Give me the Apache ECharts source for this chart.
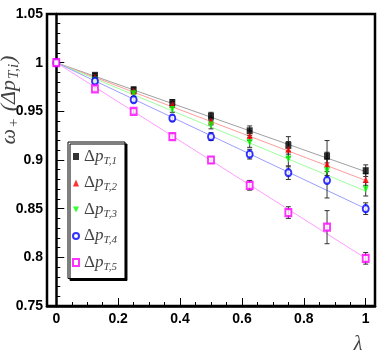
<!DOCTYPE html>
<html>
<head>
<meta charset="utf-8">
<script src="https://cdn.jsdelivr.net/npm/echarts@6/dist/echarts.min.js"></script>
<style>html,body{margin:0;padding:0;background:#fff}#c{width:392px;height:354px}</style>
</head>
<body>
<div id="c"></div>
<script>
const lambda = [0, 0.125, 0.25, 0.375, 0.5, 0.625, 0.75, 0.875, 1];
const names = ['Δp_T,1', 'Δp_T,2', 'Δp_T,3', 'Δp_T,4', 'Δp_T,5'];
const s1 = [1, 0.987, 0.972, 0.959, 0.945, 0.930, 0.915, 0.904, 0.889];
const s2 = [1, 0.985, 0.971, 0.957, 0.940, 0.925, 0.911, 0.896, 0.880];
const s3 = [1, 0.982, 0.968, 0.952, 0.936, 0.918, 0.901, 0.889, 0.870];
const s4 = [1, 0.981, 0.962, 0.943, 0.924, 0.906, 0.887, 0.879, 0.850];
const s5 = [1, 0.973, 0.950, 0.924, 0.900, 0.874, 0.846, 0.831, 0.799];
const e1 = [0.001, 0.002, 0.003, 0.003, 0.004, 0.005, 0.009, 0.016, 0.006];
const e2 = [0.001, 0.002, 0.003, 0.003, 0.004, 0.005, 0.008, 0.012, 0.006];
const e3 = [0.001, 0.002, 0.003, 0.003, 0.004, 0.005, 0.008, 0.012, 0.007];
const e4 = [0.001, 0.002, 0.003, 0.003, 0.004, 0.005, 0.007, 0.018, 0.006];
const e5 = [0.001, 0.002, 0.002, 0.003, 0.003, 0.005, 0.006, 0.017, 0.006];
// straight-line fits: value at lambda=0 and lambda=1
const fitX = [0, 1];
const fit1 = [1, 0.888];
const fit2 = [1, 0.879];
const fit3 = [1, 0.868];
const fit4 = [1, 0.850];
const fit5 = [1, 0.799];
const xMajorTicks = [0, 0.2, 0.4, 0.6, 0.8, 1];
const yTicks = [0.75, 0.8, 0.85, 0.9, 0.95, 1, 1.05];

const values = [s1, s2, s3, s4, s5];
const errs = [e1, e2, e3, e4, e5];
const fits = [fit1, fit2, fit3, fit4, fit5];
const markColors = ['#000000', '#ff0000', '#00ff00', '#0000ff', '#ff00ff'];
const lineColors = ['#a0a0a0', '#ff9c9c', '#9cff9c', '#9c9cff', '#ff9cff'];
const symbols = ['rect', 'triangle', 'path://M0,0 L10,0 L5,10 Z', 'emptyCircle', 'emptyRect'];
const symSizes = [[6, 7], [6, 7], [6, 7], [6, 7], [6, 7]];

const xMinor = [];
for (let i = 0; i < xMajorTicks.length - 1; i++) {
  const a = xMajorTicks[i], b = xMajorTicks[i + 1];
  for (let k = 1; k < 4; k++) xMinor.push(+(a + (b - a) * k / 4).toFixed(4));
}

const labelFont = { fontFamily: '"Liberation Sans Narrow","Liberation Sans",Arial,sans-serif', fontWeight: 'bold', fontSize: 14, color: '#000' };

const series = [];
fits.forEach((f, i) => {
  series.push({
    type: 'line', name: 'fit' + i, data: fitX.map((x, j) => [x, f[j]]),
    showSymbol: false, symbol: 'none', silent: true,
    lineStyle: { color: lineColors[i], width: 1 }, z: 1
  });
});
values.forEach((v, i) => {
  series.push({
    type: 'custom', name: 'err' + i, silent: true, z: 2,
    data: lambda.map((x, j) => [x, v[j], errs[i][j]]),
    renderItem: function (params, api) {
      const x = api.value(0), y = api.value(1), e = api.value(2);
      const p1 = api.coord([x, y + e]);
      const p2 = api.coord([x, y - e]);
      const w = 2.5;
      const st = { stroke: '#333', lineWidth: 1 };
      return { type: 'group', children: [
        { type: 'line', shape: { x1: p1[0], y1: p1[1], x2: p2[0], y2: p2[1] }, style: st },
        { type: 'line', shape: { x1: p1[0] - w, y1: p1[1], x2: p1[0] + w, y2: p1[1] }, style: st },
        { type: 'line', shape: { x1: p2[0] - w, y1: p2[1], x2: p2[0] + w, y2: p2[1] }, style: st }
      ]};
    }
  });
});
values.forEach((v, i) => {
  series.push({
    type: 'scatter', name: names[i], z: 3,
    data: lambda.map((x, j) => [x, v[j]]),
    symbol: symbols[i], symbolSize: symSizes[i],
    itemStyle: { color: markColors[i], borderColor: markColors[i], borderWidth: i >= 3 ? 1.2 : 0 }
  });
});

const chart = echarts.init(document.getElementById('c'), null, { renderer: 'canvas' });
chart.setOption({
  animation: false,
  backgroundColor: '#fff',
  grid: { left: 47, right: 17, top: 14, bottom: 48, show: true, borderColor: '#000', borderWidth: 2.5, backgroundColor: 'transparent' },
  xAxis: [{
    type: 'value', min: -0.03, max: 1.03, position: 'bottom',
    axisLine: { show: true, lineStyle: { color: '#000', width: 2.5 } },
    axisTick: { show: true, inside: true, length: 8, customValues: xMajorTicks, lineStyle: { color: '#000', width: 1 } },
    axisLabel: Object.assign({ customValues: xMajorTicks, margin: 6, formatter: v => String(v) }, labelFont),
    splitLine: { show: false }
  }, {
    type: 'value', min: -0.03, max: 1.03, position: 'bottom',
    axisLine: { show: false },
    axisTick: { show: true, inside: true, length: 4, customValues: xMinor, lineStyle: { color: '#000', width: 1 } },
    axisLabel: { show: false },
    splitLine: { show: false }
  }],
  yAxis: {
    type: 'value', min: 0.75, max: 1.05, interval: 0.05,
    axisLine: { show: true, lineStyle: { color: '#000', width: 2.5 } },
    axisTick: { show: true, inside: true, length: 8, lineStyle: { color: '#000', width: 1 } },
    minorTick: { show: true, splitNumber: 5, length: 4, lineStyle: { color: '#000', width: 1 } },
    axisLabel: Object.assign({ margin: 4, formatter: v => { const t = yTicks.find(k => Math.abs(k - v) < 1e-6); return t === undefined ? '' : String(t); } }, labelFont),
    splitLine: { show: false }
  },
  legend: {
    data: names.map((n, i) => ({ name: n, icon: symbols[i] })),
    orient: 'vertical', left: 68, top: 142,
    itemWidth: 6, itemHeight: 7, itemGap: 8,
    padding: [6, 8, 6, 4],
    backgroundColor: '#fff', borderColor: '#000', borderWidth: 1,
    shadowColor: '#000', shadowOffsetX: 2, shadowOffsetY: 2, shadowBlur: 0,
    selectedMode: false,
    formatter: function (n) {
      const sub = n.split('_')[1];
      return '{d|Δ}{p|p}{s|' + sub + '}';
    },
    textStyle: {
      color: '#333',
      rich: {
        d: { fontFamily: '"Liberation Serif",serif', fontSize: 17, color: '#444' },
        p: { fontFamily: '"Liberation Serif",serif', fontSize: 17, fontStyle: 'italic', color: '#444' },
        s: { fontFamily: '"Liberation Serif",serif', fontSize: 11, fontStyle: 'italic', color: '#444', padding: [9, 0, 0, 0] }
      }
    }
  },
  graphic: [
    {
      type: 'text', x: 9, y: 100, rotation: Math.PI / 2, z: 10,
      style: {
        text: '{w|ω}{s|+}{w| (Δ}{p|p}{s|T,i}{w|)}',
        align: 'center', verticalAlign: 'middle',
        rich: {
          w: { fontFamily: '"Liberation Serif",serif', fontSize: 22, fontStyle: 'italic', fill: '#444' },
          p: { fontFamily: '"Liberation Serif",serif', fontSize: 22, fontStyle: 'italic', fill: '#444' },
          s: { fontFamily: '"Liberation Serif",serif', fontSize: 15, fontStyle: 'italic', fill: '#444', padding: [10, 1, 0, 1] }
        }
      }
    },
    {
      type: 'text', x: 358, y: 345, z: 10,
      style: { text: 'λ', align: 'center', verticalAlign: 'middle', font: 'italic 20px "Liberation Serif", serif', fill: '#444' }
    }
  ],
  series: series
});
</script>
</body>
</html>
